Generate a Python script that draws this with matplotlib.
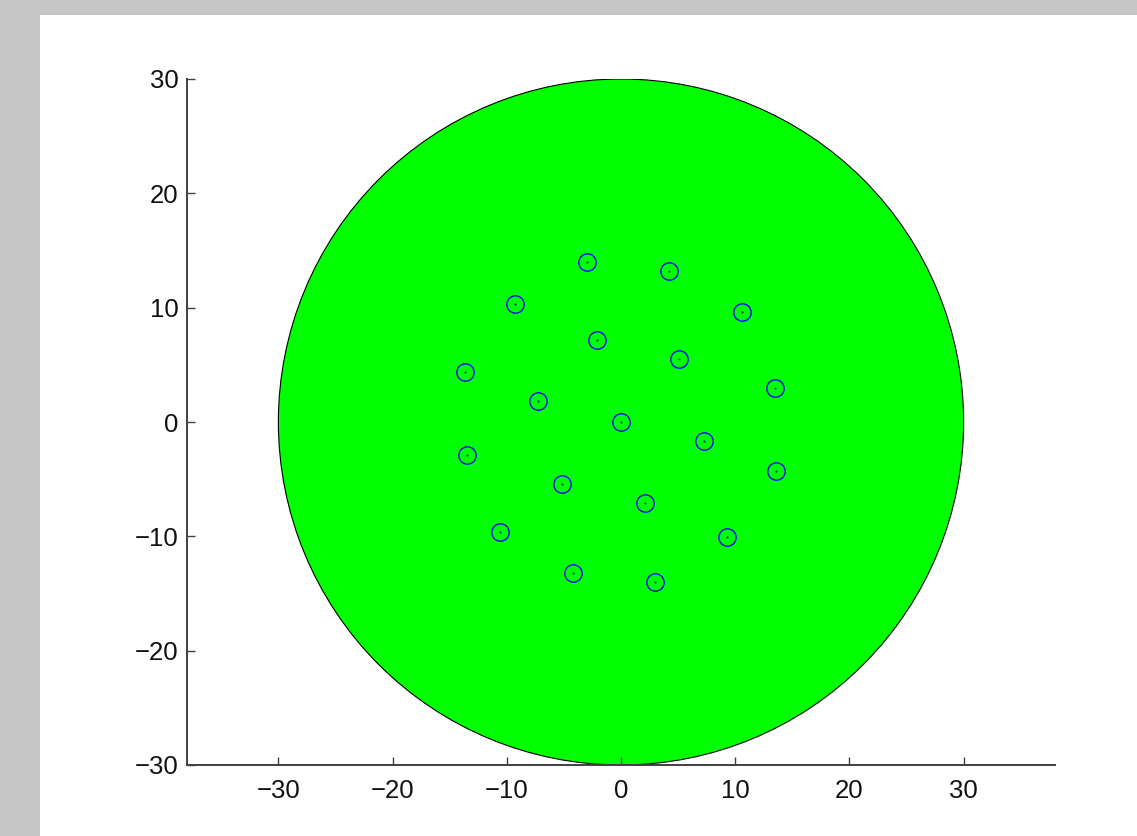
import matplotlib
matplotlib.use("Agg")
import matplotlib.pyplot as plt
from matplotlib.patches import Circle, Rectangle

plt.rcParams['font.family'] = ['Liberation Sans', 'DejaVu Sans']

# Data
circle_radius = 30
x_pts = [-3.0, 4.2, -9.3, 10.6, -2.1, 5.1, -13.7, 13.5, -7.3, 0.0,
         7.3, -13.5, 13.6, -5.2, 2.1, -10.6, 9.3, -4.2, 3.0]
y_pts = [14.0, 13.2, 10.3, 9.6, 7.2, 5.5, 4.4, 3.0, 1.8, 0.0,
         -1.7, -2.9, -4.3, -5.4, -7.1, -9.6, -10.1, -13.2, -14.0]
x_ticks = [-30, -20, -10, 0, 10, 20, 30]
y_ticks = [-30, -20, -10, 0, 10, 20, 30]

W, H = 1137, 836
fig = plt.figure(figsize=(W/100, H/100), dpi=100)
fig.patch.set_facecolor('white')
gray = '#c5c6c5'
fig.patches.append(Rectangle((0, 0), 40/W, 1, transform=fig.transFigure,
                             facecolor=gray, edgecolor='none', zorder=-10))
fig.patches.append(Rectangle((0, 1 - 15/H), 1, 15/H, transform=fig.transFigure,
                             facecolor=gray, edgecolor='none', zorder=-10))

ax = fig.add_axes([187/W, 71/H, (1055-187)/W, (765-79)/H])
ax.add_patch(Circle((0, 0), circle_radius, facecolor='#00ff00',
                    edgecolor='black', linewidth=0.8))
ax.plot(x_pts, y_pts, 'o', markerfacecolor='none', markeredgecolor='#0000ff',
        markersize=12.5, markeredgewidth=1.0, linestyle='none')
ax.plot(x_pts, y_pts, '.', color='#0000aa', markersize=0.9, linestyle='none')

ax.set_xlim(-38, 38)
ax.set_ylim(-30, 30)
ax.set_xticks(x_ticks)
ax.set_yticks(y_ticks)
ax.set_xticklabels(['\u221230', '\u221220', '\u221210', '0', '10', '20', '30'])
ax.set_yticklabels(['\u221230', '\u221220', '\u221210', '0', '10', '20', '30'])
for s in ['top', 'right']:
    ax.spines[s].set_visible(False)
for s in ['left', 'bottom']:
    ax.spines[s].set_color('#404040')
    ax.spines[s].set_linewidth(1.4)
ax.tick_params(direction='in', length=6, width=1.0, color='#404040',
               labelsize=18.5, labelcolor='#111111')
ax.tick_params(axis='x', pad=10)
ax.tick_params(axis='y', pad=6)

fig.savefig('out.png', dpi=100)
